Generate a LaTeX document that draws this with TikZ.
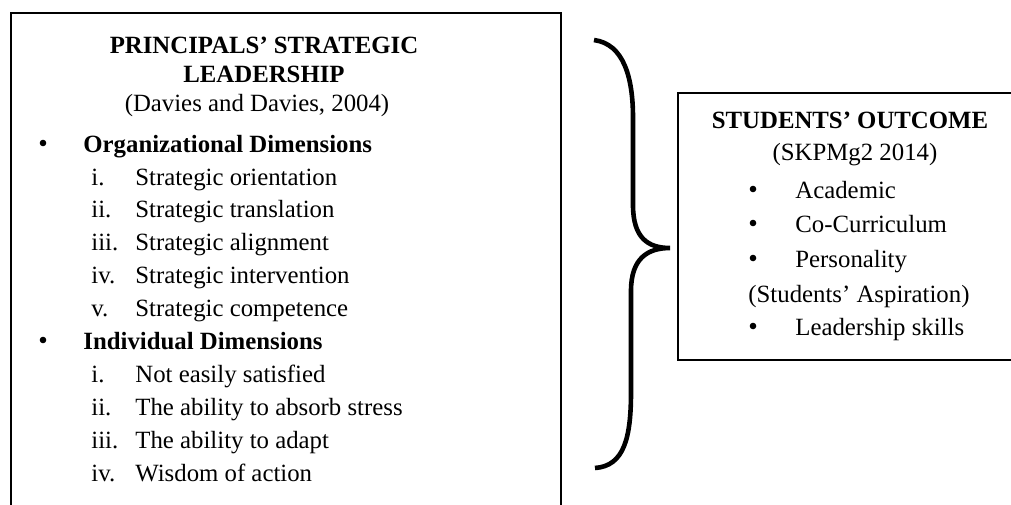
\documentclass[tikz,border=0pt]{standalone}
\usepackage{fontspec}
\setmainfont{Liberation Serif}
\usetikzlibrary{positioning}
\tikzstyle{txt}=[inner sep=0pt, anchor=base west]
\tikzstyle{ctr}=[inner sep=0pt, anchor=base]
\tikzstyle{ttl}=[inner sep=0pt, anchor=base, font=\fontsize{12.4}{15}\selectfont\bfseries]
\tikzstyle{dot}=[circle, fill, inner sep=0pt, minimum size=3.3pt]
\tikzstyle{frame}=[draw, line width=1pt]

\begin{document}
\begin{tikzpicture}[x=0.5pt, y=-0.5pt, font=\fontsize{12.4}{15}\selectfont]
			\clip (0,0) rectangle (1011,504);
			% left box: principals
			\draw[frame] (11,13) rectangle (561,530);
			\node[ttl] (psl1) at (264,53) {PRINCIPALS’ STRATEGIC};
			\node[ttl] (psl2) at (264,82) {LEADERSHIP};
			\node[ctr] (dav) at (257,111) {(Davies and Davies, 2004)};
			\node[txt] (org) at (83,152) {\textbf{Organizational Dimensions}};
			\node[dot] at (43,143) {};
			\node[txt] at (91,185) {i.};   \node[txt] (o1) at (135,185) {Strategic orientation};
			\node[txt] at (91,217) {ii.};  \node[txt] (o2) at (135,217) {Strategic translation};
			\node[txt] at (91,250) {iii.}; \node[txt] (o3) at (135,250) {Strategic alignment};
			\node[txt] at (91,283) {iv.};  \node[txt] (o4) at (135,283) {Strategic intervention};
			\node[txt] at (91,316) {v.};   \node[txt] (o5) at (135,316) {Strategic competence};
			\node[txt] (ind) at (83,349) {\textbf{Individual Dimensions}};
			\node[dot] at (43,340) {};
			\node[txt] at (91,382) {i.};   \node[txt] (d1) at (135,382) {Not easily satisfied};
			\node[txt] at (91,415) {ii.};  \node[txt] (d2) at (135,415) {The ability to absorb stress};
			\node[txt] at (91,448) {iii.}; \node[txt] (d3) at (135,448) {The ability to adapt};
			\node[txt] at (91,481) {iv.};  \node[txt] (d4) at (135,481) {Wisdom of action};
			% brace
			\coordinate (btop) at (594,40);
			\coordinate (btip) at (670,248);
			\coordinate (bbot) at (595,468);
			\draw[line width=2.3pt] (btop) .. controls (624,44) and (633,78) .. (633,118) -- (633,205)
				.. controls (633,238) and (648,248) .. (btip)
				.. controls (648,248) and (631,258) .. (631,291) -- (631,392)
				.. controls (631,438) and (624,466) .. (bbot);
			% right box: students
			\draw[frame] (678,93) rectangle (1030,360);
			\node[ttl] (so) at (850,128) {STUDENTS’ OUTCOME};
			\node[ctr] (skp) at (855,160) {(SKPMg2 2014)};
			\node[dot] at (753,189) {}; \node[txt] (s1) at (795,198) {Academic};
			\node[dot] at (753,223) {}; \node[txt] (s2) at (795,232) {Co-Curriculum};
			\node[dot] at (753,258) {}; \node[txt] (s3) at (795,267) {Personality};
			\node[txt] (asp) at (748,302) {(Students’ Aspiration)};
			\node[dot] at (753,326) {}; \node[txt] (s4) at (795,335) {Leadership skills};
		\end{tikzpicture}
\end{document}
